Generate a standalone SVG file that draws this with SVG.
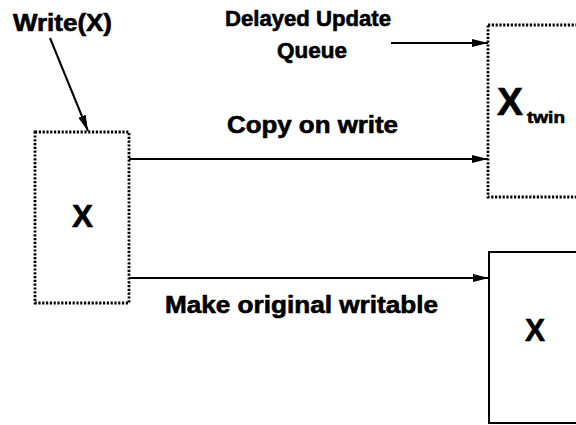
<svg xmlns="http://www.w3.org/2000/svg" width="576" height="425" viewBox="0 0 576 425">
<style>
.t{font-family:"Liberation Sans",Arial,Helvetica,sans-serif;font-weight:bold;fill:#000;stroke:#000;stroke-width:0.6}
.dot{fill:none;stroke:#000;stroke-width:2.8;stroke-dasharray:2.2 1.6}
.solid{fill:none;stroke:#000;stroke-width:2}
.ln{fill:none;stroke:#000;stroke-width:2}
</style>
<defs>
<marker id="ah" viewBox="0 0 16 8" refX="16" refY="4" markerWidth="16" markerHeight="8" markerUnits="userSpaceOnUse" orient="auto">
<path d="M0,0 L16,4 L0,8 Z" fill="#000"/>
</marker>
</defs>
<rect width="576" height="425" fill="#fff"/>
<g id="labels">
<text class="t" x="13" y="31" font-size="23" textLength="99" lengthAdjust="spacingAndGlyphs">Write(X)</text>
<text class="t" x="225" y="26" font-size="22" textLength="166" lengthAdjust="spacingAndGlyphs">Delayed Update</text>
<text class="t" x="277" y="58" font-size="22" textLength="70" lengthAdjust="spacingAndGlyphs">Queue</text>
<text class="t" x="227" y="133" font-size="23" textLength="171" lengthAdjust="spacingAndGlyphs">Copy on write</text>
<text class="t" x="165" y="313" font-size="23" textLength="273" lengthAdjust="spacingAndGlyphs">Make original writable</text>
</g>
<g id="node-x-left">
<rect class="dot" x="35" y="132" width="94" height="171"/>
<text class="t" x="72" y="227" font-size="31" textLength="21" lengthAdjust="spacingAndGlyphs">X</text>
</g>
<g id="node-x-twin">
<rect class="dot" x="488" y="25" width="120" height="172"/>
<text class="t" x="497" y="115" font-size="38" textLength="26" lengthAdjust="spacingAndGlyphs">X</text>
<text class="t" x="527" y="123" font-size="16" textLength="38" lengthAdjust="spacingAndGlyphs">twin</text>
</g>
<g id="node-x-right">
<rect class="solid" x="489" y="252" width="120" height="171"/>
<text class="t" x="525" y="341" font-size="32" textLength="20" lengthAdjust="spacingAndGlyphs">X</text>
</g>
<g id="connectors">
<line class="ln" x1="50" y1="38" x2="88" y2="131" marker-end="url(#ah)"/>
<line class="ln" x1="391" y1="43" x2="488" y2="43" marker-end="url(#ah)"/>
<line class="ln" x1="129" y1="159" x2="488" y2="159" marker-end="url(#ah)"/>
<line class="ln" x1="129" y1="278" x2="489" y2="278" marker-end="url(#ah)"/>
</g>
</svg>
